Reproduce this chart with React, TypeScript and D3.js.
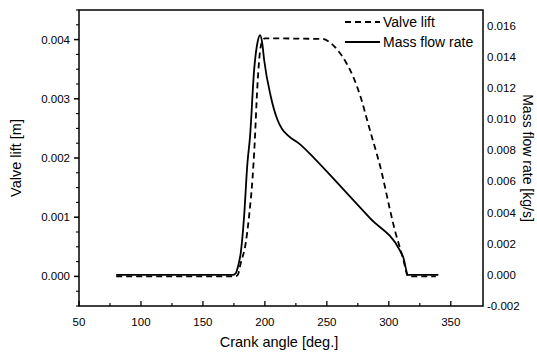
import React from "react";
import * as d3 from "d3";

const crankLift = [80, 176, 178, 180.5, 184.5, 187.2, 190, 191.5, 194, 196, 198, 200, 247, 252, 258, 265.6, 272.3, 277.7, 282, 286, 290, 294, 297, 301, 305, 309, 312, 315.5, 338];
const valveLift = [0, 0, 0.00002, 0.00022, 0.00056, 0.00101, 0.00165, 0.00215, 0.00323, 0.00379, 0.00398, 0.00402, 0.00401, 0.00396, 0.00384, 0.00361, 0.00332, 0.00300, 0.00268, 0.00238, 0.00209, 0.00178, 0.0015, 0.00112, 0.00077, 0.00048, 0.00026, 0, 0];

const crankFlow = [80, 174, 176.4, 178.5, 180.5, 183.2, 185.9, 188, 191.3, 194, 196.1, 197.8, 199.4, 204.8, 210.2, 214, 218.3, 229.1, 239.9, 261.5, 285, 308.8, 311.5, 315.6, 340];
const massFlow = [0, 0, 0.0001, 0.0006, 0.0014, 0.00373, 0.00716, 0.00886, 0.01314, 0.0149, 0.01539, 0.01490, 0.01379, 0.01143, 0.00994, 0.00935, 0.00897, 0.00833, 0.00748, 0.00565, 0.00362, 0.00159, 0.00116, 0, 0];

const xTicks = [50, 100, 150, 200, 250, 300, 350];
const xMinor = [75, 125, 175, 225, 275, 325];
const leftTicks = [0, 0.001, 0.002, 0.003, 0.004];
const rightTicks = [-0.002, 0, 0.002, 0.004, 0.006, 0.008, 0.01, 0.012, 0.014, 0.016];

const W = 537, H = 355;
const L = 79, R = 483, T = 10, B = 306;
const FONT = "'Liberation Sans', Arial, sans-serif";

export default function App() {
  const x = d3.scaleLinear().domain([50, 376]).range([L, R]);
  const yL = d3.scaleLinear().domain([-0.0005, 0.0045]).range([B, T]);
  const yR = d3.scaleLinear().domain([-0.002, 0.017]).range([B, T]);

  const liftLine = d3.line<number>()
    .x((_, i) => x(crankLift[i]))
    .y((d) => yL(d))
    .curve(d3.curveMonotoneX);
  const flowLine = d3.line<number>()
    .x((_, i) => x(crankFlow[i]))
    .y((d) => yR(d))
    .curve(d3.curveMonotoneX);

  const leftMinor = d3.range(-0.0005, 0.00451, 0.00025).filter(
    (v) => !leftTicks.some((t) => Math.abs(t - v) < 1e-9)
  );

  return (
    <svg width={W} height={H} style={{ position: "absolute", left: 0, top: 0, background: "#fff" }} fontFamily={FONT}>
      <rect x={0} y={0} width={W} height={H} fill="#fff" />
      {/* frame */}
      <rect x={L} y={T} width={R - L} height={B - T} fill="none" stroke="#000" strokeWidth={1.5} />

      {/* x ticks */}
      {xTicks.map((t) => (
        <g key={"x" + t}>
          <line x1={x(t)} x2={x(t)} y1={B} y2={B - 5} stroke="#000" strokeWidth={1.3} />
          <text x={x(t)} y={B + 20} textAnchor="middle" fontSize={11.5} fill="#000">{t}</text>
        </g>
      ))}
      {xMinor.map((t) => (
        <line key={"xm" + t} x1={x(t)} x2={x(t)} y1={B} y2={B - 3} stroke="#000" strokeWidth={1.2} />
      ))}

      {/* left ticks */}
      {leftTicks.map((t) => (
        <g key={"l" + t}>
          <line x1={L} x2={L - 5} y1={yL(t)} y2={yL(t)} stroke="#000" strokeWidth={1.5} />
          <text x={L - 9} y={yL(t) + 4} textAnchor="end" fontSize={11.5} fill="#000">{t.toFixed(3)}</text>
        </g>
      ))}
      {leftMinor.map((t, i) => (
        <line key={"lm" + i} x1={L} x2={L - 3} y1={yL(t)} y2={yL(t)} stroke="#000" strokeWidth={1.1} />
      ))}

      {/* right ticks */}
      {rightTicks.map((t) => (
        <text key={"r" + t} x={R + 4} y={yR(t) + 4} textAnchor="start" fontSize={11.5} fill="#000">{t.toFixed(3)}</text>
      ))}

      {/* axis titles */}
      <text x={(L + R) / 2 - 2} y={B + 41} textAnchor="middle" fontSize={14.5} fill="#000">Crank angle [deg.]</text>
      <text transform={`translate(21,${(T + B) / 2}) rotate(-90)`} textAnchor="middle" fontSize={14.5} fill="#000">Valve lift [m]</text>
      <text transform={`translate(523,${(T + B) / 2}) rotate(90)`} textAnchor="middle" fontSize={14} fill="#000">Mass flow rate [kg/s]</text>

      {/* data */}
      <path d={liftLine(valveLift) || ""} fill="none" stroke="#000" strokeWidth={1.8} strokeDasharray="6,4" />
      <path d={flowLine(massFlow) || ""} fill="none" stroke="#000" strokeWidth={1.8} />

      {/* legend */}
      <line x1={345} x2={380} y1={22} y2={22} stroke="#000" strokeWidth={1.8} strokeDasharray="6,4" />
      <text x={383} y={27} fontSize={14} fill="#000">Valve lift</text>
      <line x1={345} x2={380} y1={42} y2={42} stroke="#000" strokeWidth={1.8} />
      <text x={383} y={47} fontSize={14} fill="#000">Mass flow rate</text>
    </svg>
  );
}
